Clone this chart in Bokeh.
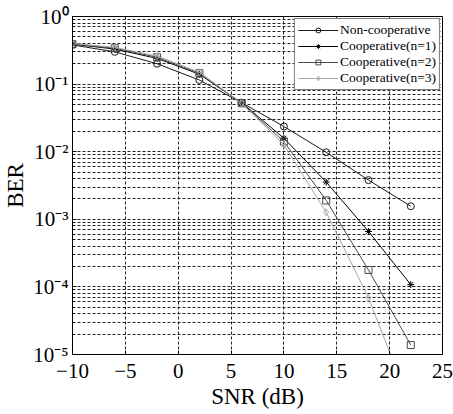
from bokeh.plotting import figure
from bokeh.models import Range1d, FixedTicker, CustomJSTickFormatter, Legend, LegendItem
from bokeh.embed import file_html
from bokeh.resources import INLINE

snr = [-10, -6, -2, 2, 6, 10, 14, 18, 22]
ber_noncoop = [0.38, 0.30, 0.20, 0.115, 0.053, 0.0236, 0.0098, 0.0038, 0.00156]
ber_n1 = [0.39, 0.33, 0.24, 0.14, 0.053, 0.0158, 0.00356, 0.00066, 0.000108]
ber_n2 = [0.39, 0.34, 0.25, 0.145, 0.052, 0.0141, 0.0019, 0.000178, 0.0000138]
ber_n3 = [0.40, 0.35, 0.26, 0.15, 0.052, 0.0126, 0.00127, 0.000069, 0.0000017]

x_ticks = [-10, -5, 0, 5, 10, 15, 20, 25]
y_ticks = [1e-5, 1e-4, 1e-3, 1e-2, 1e-1, 1]
y_minor = [m * d for d in [1e-5, 1e-4, 1e-3, 1e-2, 1e-1] for m in range(2, 10)]

series_labels = ["Non-cooperative", "Cooperative(n=1)", "Cooperative(n=2)", "Cooperative(n=3)"]
series_colors = ["#1a1a1a", "#000000", "#4a4a4a", "#a8a8a8"]
series_markers = ["circle", "asterisk", "square", "diamond"]

FONT = "Liberation Serif"

p = figure(width=453, height=414, output_backend="svg", toolbar_location=None,
           y_axis_type="log", x_range=Range1d(-10, 25), y_range=Range1d(1e-5, 1),
           min_border_left=68, min_border_right=11, min_border_top=16, min_border_bottom=60)

p.outline_line_color = "black"
p.outline_line_width = 1
p.background_fill_color = "white"
p.border_fill_color = "white"

p.xaxis.ticker = FixedTicker(ticks=x_ticks)
p.yaxis.ticker = FixedTicker(ticks=y_ticks, minor_ticks=y_minor)
p.xaxis.major_label_overrides = {t: (str(t).replace("-", "\u2212")) for t in x_ticks}
p.yaxis.formatter = CustomJSTickFormatter(code="""
const e = Math.round(Math.log10(tick));
const sup = {'-':'\u207b','0':'\u2070','1':'\u00b9','2':'\u00b2','3':'\u00b3','4':'\u2074','5':'\u2075','6':'\u2076','7':'\u2077','8':'\u2078','9':'\u2079'};
return '10' + String(e).split('').map(c => sup[c]).join('');
""")

for ax in [p.xaxis[0], p.yaxis[0]]:
    ax.major_label_text_font = FONT
    ax.major_label_text_font_size = "21px"
    ax.major_label_text_color = "black"
    ax.axis_label_text_font = FONT
    ax.axis_label_text_font_size = "23px"
    ax.axis_label_text_font_style = "normal"
    ax.axis_label_text_color = "black"
    ax.axis_line_color = "black"
    ax.major_tick_out = 0
    ax.major_tick_in = 4
    ax.minor_tick_out = 0
    ax.minor_tick_in = 2
    ax.major_tick_line_color = "black"
    ax.minor_tick_line_color = "black"

p.xaxis.axis_label = "SNR (dB)"
p.yaxis.axis_label = "BER"
p.xaxis.major_label_standoff = 9
p.yaxis.major_label_standoff = 4
p.xaxis.axis_label_standoff = 3
p.yaxis.axis_label_standoff = 2

p.xgrid.grid_line_color = "#222222"
p.xgrid.grid_line_dash = "3 2"
p.xgrid.grid_line_width = 1
p.ygrid.grid_line_color = "#222222"
p.ygrid.grid_line_dash = "3 2"
p.ygrid.grid_line_width = 1
p.ygrid.minor_grid_line_color = "#222222"
p.ygrid.minor_grid_line_dash = "3 2"
p.ygrid.minor_grid_line_width = 1

items = []
all_ber = [ber_noncoop, ber_n1, ber_n2, ber_n3]
for ber, lab, col, mk in zip(all_ber, series_labels, series_colors, series_markers):
    r1 = p.line(snr, ber, line_color=col, line_width=1)
    r2 = p.scatter(snr, ber, marker=mk, size=7, line_color=col, fill_color=None, line_width=1)
    items.append(LegendItem(label=lab, renderers=[r1, r2]))

legend = Legend(items=items, location="top_right")
legend.label_text_font = FONT
legend.label_text_font_size = "13.5px"
legend.label_text_line_height = 0.9
legend.label_text_color = "black"
legend.glyph_width = 40
legend.glyph_height = 12
legend.label_height = 12
legend.label_standoff = 2
legend.spacing = 0
legend.padding = 3
legend.margin = 2
legend.border_line_color = "black"
legend.border_line_width = 1
legend.background_fill_color = "white"
legend.background_fill_alpha = 1
p.add_layout(legend)

open("out.html", "w").write(file_html(p, INLINE))
